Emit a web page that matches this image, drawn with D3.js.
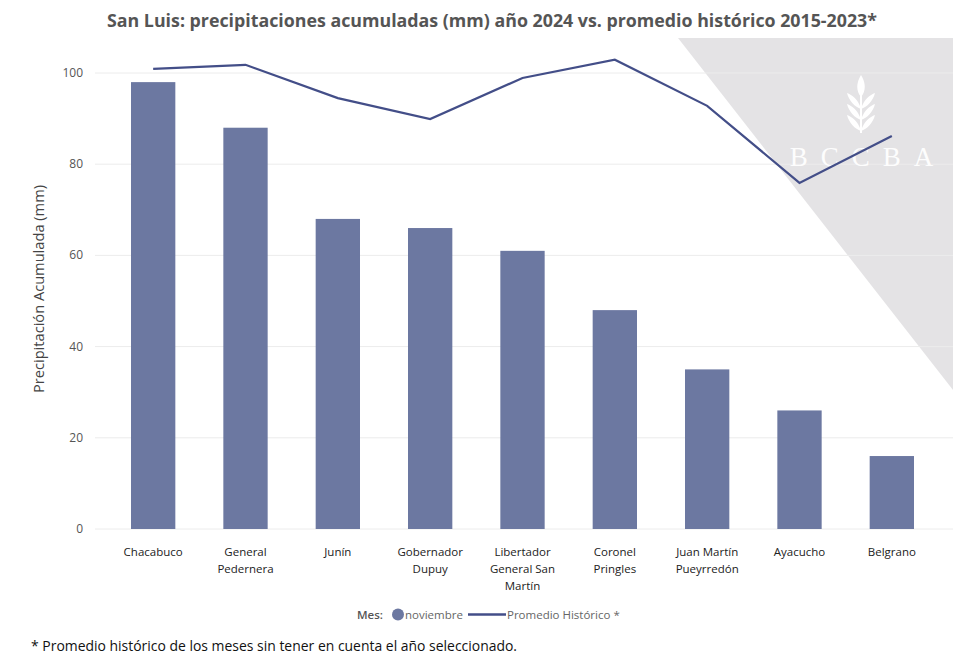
<!DOCTYPE html>
<html><head><meta charset="utf-8">
<script src="https://cdn.jsdelivr.net/npm/d3@7"></script>
<style>
html,body{margin:0;padding:0;background:#fff;}
svg{display:block;font-family:"Open Sans","Noto Sans",sans-serif;}
</style></head>
<body>
<svg id="c" width="953" height="656"></svg>
<script>
const categories = [["Chacabuco"],["General","Pedernera"],["Junín"],["Gobernador","Dupuy"],["Libertador","General San","Martín"],["Coronel","Pringles"],["Juan Martín","Pueyrredón"],["Ayacucho"],["Belgrano"]];
const noviembre = [98, 88, 68, 66, 61, 48, 35, 26, 16];
const promedio = [100.9, 101.8, 94.5, 89.9, 98.9, 102.9, 92.8, 75.9, 86.2];
const yTicks = [0, 20, 40, 60, 80, 100];
const title = "San Luis: precipitaciones acumuladas (mm) año 2024 vs. promedio histórico 2015-2023*";
const footnote = "* Promedio histórico de los meses sin tener en cuenta el año seleccionado.";

const svg = d3.select("#c");
const barColor = "#6c78a1", lineColor = "#434e88";
const keys = categories.map(c => c.join(" "));

const x = d3.scaleBand().domain(keys).range([107, 938]).paddingInner(0.52).paddingOuter(0.26);
const y = d3.scaleLinear().domain([0, 100]).range([529, 73]);

// watermark triangle
svg.append("path").attr("d", "M678,38 L953,38 L953,390 Z").attr("fill", "#e4e3e5");

// gridlines
svg.append("g").selectAll("line").data(yTicks).join("line")
  .attr("x1", 95).attr("x2", 953)
  .attr("y1", d => y(d)).attr("y2", d => y(d))
  .attr("stroke", "#ececec").attr("stroke-width", 1);

// watermark logo
const wm = svg.append("g").attr("fill", "#fff");
wm.append("text").attr("x", 868).attr("y", 166).attr("text-anchor", "middle")
  .attr("font-family", "'Liberation Serif','DejaVu Serif',serif").attr("font-size", 27)
  .attr("letter-spacing", 13).attr("opacity", 0.95).text("BCCBA");
// wheat
const wheat = wm.append("g").attr("transform", "translate(861,75)");
wheat.append("path").attr("d", "M0,0 C5,8 5,16 0,22 C-5,16 -5,8 0,0 Z");
wheat.append("rect").attr("x", -1).attr("y", 20).attr("width", 2).attr("height", 38);
[[24, 1], [24, -1], [35, 1], [35, -1], [46, 1], [46, -1]].forEach(([yy, s]) => {
  wheat.append("path").attr("d", `M0,${yy+10} C${s*3},${yy} ${s*9},${yy-4} ${s*14},${yy-6} C${s*12},${yy+2} ${s*6},${yy+8} 0,${yy+10} Z`);
});

// y axis ticks labels
svg.append("g").selectAll("text").data(yTicks).join("text")
  .attr("x", 83).attr("y", d => y(d) + 4).attr("text-anchor", "end")
  .attr("font-size", 12).attr("fill", "#555").text(d => d);

// y axis title
svg.append("text").attr("transform", "translate(44,289) rotate(-90)")
  .attr("text-anchor", "middle").attr("font-size", 14).attr("fill", "#444")
  .attr("textLength", 208).attr("lengthAdjust", "spacingAndGlyphs")
  .text("Precipitación Acumulada (mm)");

// bars
svg.append("g").selectAll("rect").data(noviembre).join("rect")
  .attr("x", (d, i) => x(keys[i])).attr("width", x.bandwidth())
  .attr("y", d => y(d)).attr("height", d => y(0) - y(d))
  .attr("fill", barColor);

// line
const line = d3.line().x((d, i) => x(keys[i]) + x.bandwidth() / 2).y(d => y(d));
svg.append("path").datum(promedio).attr("d", line)
  .attr("fill", "none").attr("stroke", lineColor).attr("stroke-width", 2.2);

// x labels
const xl = svg.append("g").selectAll("text").data(categories).join("text")
  .attr("text-anchor", "middle").attr("font-size", 11.5).attr("fill", "#222")
  .attr("transform", (d, i) => `translate(${x(keys[i]) + x.bandwidth() / 2},556)`);
xl.selectAll("tspan").data(d => d).join("tspan")
  .attr("x", 0).attr("dy", (d, j) => j === 0 ? 0 : 17).text(d => d);

// title
svg.append("text").attr("x", 492).attr("y", 27).attr("text-anchor", "middle")
  .attr("font-size", 17).attr("font-weight", "bold").attr("fill", "#555")
  .attr("textLength", 770).attr("lengthAdjust", "spacingAndGlyphs")
  .text(title);

// legend
const lg = svg.append("g").attr("font-size", 11.5);
lg.append("text").attr("x", 357).attr("y", 619).attr("fill", "#555").attr("font-weight", 600).text("Mes:");
lg.append("circle").attr("cx", 398).attr("cy", 614.5).attr("r", 6).attr("fill", barColor);
lg.append("text").attr("x", 405).attr("y", 619).attr("fill", "#666").text("noviembre");
lg.append("line").attr("x1", 468).attr("x2", 506).attr("y1", 614.5).attr("y2", 614.5)
  .attr("stroke", lineColor).attr("stroke-width", 2.5);
lg.append("text").attr("x", 507).attr("y", 619).attr("fill", "#666").text("Promedio Histórico *");

// footnote
svg.append("text").attr("x", 31).attr("y", 651).attr("font-size", 14).attr("fill", "#111")
  .attr("textLength", 486).attr("lengthAdjust", "spacingAndGlyphs").text(footnote);
</script>
</body></html>
